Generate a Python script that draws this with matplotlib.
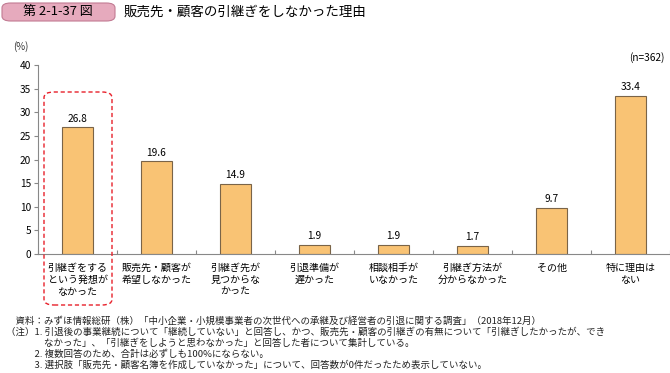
import matplotlib
matplotlib.use("Agg")
import matplotlib.pyplot as plt
from matplotlib.patches import FancyBboxPatch

plt.rcParams['font.family'] = ['Noto Sans CJK JP', 'DejaVu Sans']

categories = ["引継ぎをする\nという発想が\nなかった", "販売先・顧客が\n希望しなかった",
              "引継ぎ先が\n見つからな\nかった", "引退準備が\n遅かった", "相談相手が\nいなかった",
              "引継ぎ方法が\n分からなかった", "その他", "特に理由は\nない"]
values = [26.8, 19.6, 14.9, 1.9, 1.9, 1.7, 9.7, 33.4]
yticks = [0, 5, 10, 15, 20, 25, 30, 35, 40]

notes = [
    "　資料：みずほ情報総研（株）「中小企業・小規模事業者の次世代への承継及び経営者の引退に関する調査」（2018年12月）",
    "（注）1. 引退後の事業継続について「継続していない」と回答し、かつ、販売先・顧客の引継ぎの有無について「引継ぎしたかったが、でき",
    "　　　　なかった」、「引継ぎをしようと思わなかった」と回答した者について集計している。",
    "　　　2. 複数回答のため、合計は必ずしも100%にならない。",
    "　　　3. 選択肢「販売先・顧客名簿を作成していなかった」について、回答数が0件だったため表示していない。",
]

W, H = 670, 373
fig = plt.figure(figsize=(W / 100, H / 100), dpi=100)
ax = fig.add_axes([38 / W, 1 - 254 / H, 632 / W, (254 - 65) / H])

x = list(range(len(values)))
ax.bar(x, values, width=0.4, color="#F9C374", edgecolor="#7a6448", linewidth=0.8)
for xi, v in zip(x, values):
    ax.text(xi, v + 0.8, f"{v}", ha="center", va="bottom", fontsize=7.3)

ax.set_xlim(-0.5, len(values) - 0.5)
ax.set_ylim(0, 40)
ax.set_yticks(yticks)
ax.set_yticklabels([str(t) for t in yticks], fontsize=7.3)
ax.set_xticks([i + 0.5 for i in x[:-1]] + [-0.5, len(values) - 0.5], minor=False)
ax.set_xticklabels([])
ax.tick_params(axis="x", length=3, color="#888888", direction="in")
ax.tick_params(axis="y", length=3, color="#888888", direction="out", pad=2)
for xi, lab in zip(x, categories):
    ax.text(xi, -1.8, lab, ha="center", va="top", fontsize=7.2, linespacing=1.25)
for s in ["top", "right"]:
    ax.spines[s].set_visible(False)
ax.spines["left"].set_color("#888888")
ax.spines["bottom"].set_color("#888888")

# red dashed highlight box
box = FancyBboxPatch((44 / W, 1 - 305 / H), 68 / W, 213 / H,
                     boxstyle="round,pad=0,rounding_size=0.015",
                     transform=fig.transFigure, fill=False,
                     edgecolor="#e8202a", linestyle=(0, (3, 2)), linewidth=1.0)
fig.add_artist(box)

# title badge
badge = FancyBboxPatch((2 / W, 1 - 21 / H), 113 / W, 18 / H,
                       boxstyle="round,pad=0,rounding_size=0.013",
                       transform=fig.transFigure, facecolor="#e6aabd",
                       edgecolor="#c27b93", linewidth=0.8)
fig.add_artist(badge)
fig.text(58 / W, 1 - 12 / H, "第 2-1-37 図", ha="center", va="center", fontsize=9.4)
fig.text(124 / W, 1 - 12 / H, "販売先・顧客の引継ぎをしなかった理由", ha="left",
         va="center", fontsize=9.7)

fig.text(13 / W, 1 - 47 / H, "(%)", fontsize=7, va="center", color="#333333")
fig.text(664 / W, 1 - 58 / H, "(n=362)", fontsize=7.3, ha="right", va="center")

for i, line in enumerate(notes):
    fig.text(6 / W, 1 - (321 + i * 11) / H, line, fontsize=6.8, va="center",
             color="#222222")

fig.savefig("out.png", dpi=100)
